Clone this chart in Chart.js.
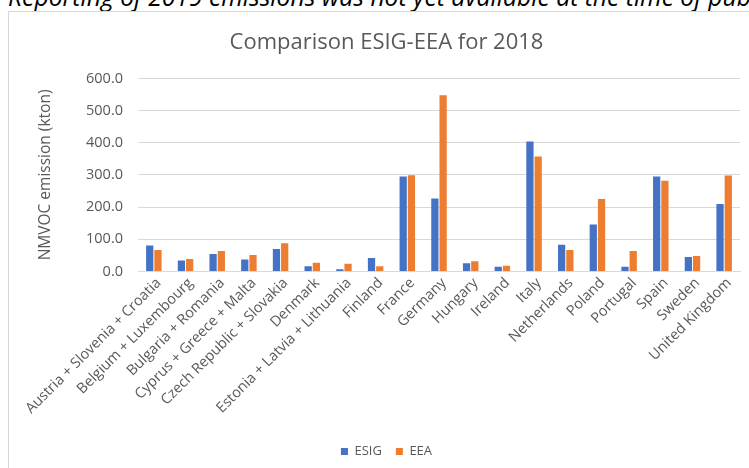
<!DOCTYPE html>
<html>
<head>
<meta charset="utf-8">
<script src="https://cdn.jsdelivr.net/npm/chart.js@4.4.1/dist/chart.umd.min.js"></script>
<style>
  html, body { margin: 0; padding: 0; background: #fff; overflow: hidden; }
  body { width: 749px; height: 468px; position: relative; }
  #note { position: absolute; left: 8px; top: -15px; font: italic 24.7px "Open Sans", sans-serif; color: #000; white-space: nowrap; line-height: 24px; }
  #box { position: absolute; left: 8px; top: 11px; width: 800px; height: 500px; border: 1px solid #d6d6d6; }
  #wrap { position: absolute; left: 0; top: 0; width: 749px; height: 468px; }
</style>
</head>
<body>
<div id="note">Reporting of 2019 emissions was not yet available at the time of publication.</div>
<div id="box"></div>
<div id="wrap"><canvas id="chart" width="749" height="468"></canvas></div>
<script>
const categories = [
  'Austria + Slovenia + Croatia',
  'Belgium + Luxembourg',
  'Bulgaria + Romania',
  'Cyprus + Greece + Malta',
  'Czech Republic + Slovakia',
  'Denmark',
  'Estonia + Latvia + Lithuania',
  'Finland',
  'France',
  'Germany',
  'Hungary',
  'Ireland',
  'Italy',
  'Netherlands',
  'Poland',
  'Portugal',
  'Spain',
  'Sweden',
  'United Kingdom'
];
const esig = [81, 34, 54, 37, 70, 16, 7, 42, 295, 227, 26, 15, 404, 83, 146, 15, 295, 45, 210];
const eea = [67, 39, 64, 51, 88, 27, 24, 16, 299, 548, 32, 18, 357, 67, 225, 64, 282, 48, 298];
const yTicks = [0, 100, 200, 300, 400, 500, 600];

const grey = '#595959';
const font = "'Open Sans', sans-serif";

new Chart(document.getElementById('chart'), {
  type: 'bar',
  data: {
    labels: categories,
    datasets: [
      { label: 'ESIG', data: esig, backgroundColor: '#4472C4' },
      { label: 'EEA', data: eea, backgroundColor: '#ED7D31' }
    ]
  },
  options: {
    responsive: false,
    animation: false,
    categoryPercentage: 0.52,
    barPercentage: 0.88,
    layout: { padding: { left: 33, right: 9, top: 0, bottom: 0 } },
    plugins: {
      title: {
        display: true,
        text: 'Comparison ESIG-EEA for 2018',
        color: grey,
        font: { family: font, size: 22, weight: 'normal' },
        padding: { top: 30, bottom: 22 }
      },
      legend: {
        position: 'bottom',
        labels: {
          color: grey,
          font: { family: font, size: 13 },
          boxWidth: 7,
          boxHeight: 7,
          padding: 14
        }
      },
      tooltip: { enabled: false }
    },
    scales: {
      x: {
        grid: { display: false, drawTicks: false },
        border: { display: true, color: '#d9d9d9', width: 1 },
        ticks: {
          color: grey,
          font: { family: font, size: 14.5 },
          minRotation: 45,
          maxRotation: 45,
          autoSkip: false,
          padding: 3,
          labelOffset: 5
        },
        afterFit: s => { s.height = 159.5; }
      },
      y: {
        min: 0,
        max: 600,
        afterBuildTicks: s => { s.ticks = yTicks.map(v => ({ value: v })); },
        grid: { color: '#d9d9d9', drawTicks: false },
        border: { display: false },
        ticks: {
          color: grey,
          font: { family: font, size: 14.5 },
          padding: 15,
          callback: v => Number(v).toFixed(1)
        },
        title: {
          display: true,
          text: 'NMVOC emission (kton)',
          color: grey,
          font: { family: font, size: 15.5 },
          padding: 3
        },
        afterFit: s => { s.width = 105; }
      }
    }
  }
});
</script>
</body>
</html>
